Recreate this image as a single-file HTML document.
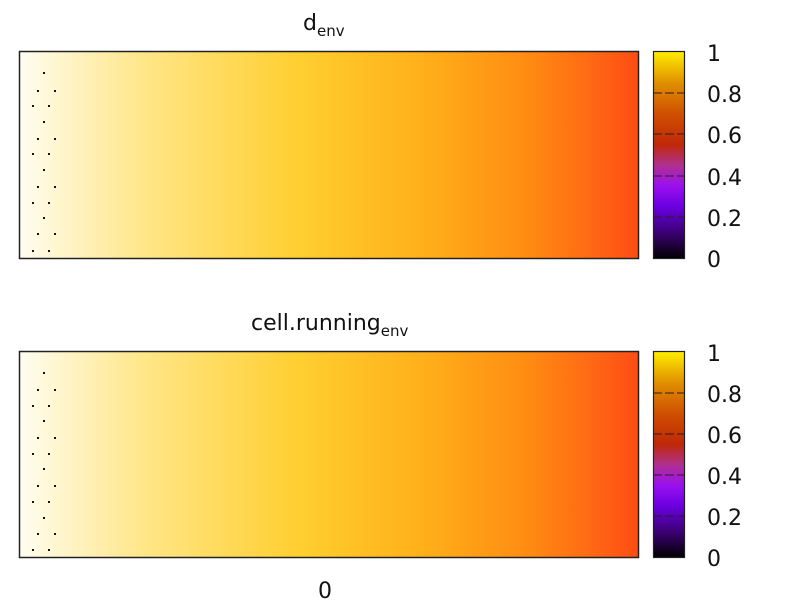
<!DOCTYPE html>
<html><head><style>
html,body{margin:0;padding:0;background:#fff;}
body{width:806px;height:600px;position:relative;overflow:hidden;font-family:"DejaVu Sans","Liberation Sans",sans-serif;}
</style></head><body>
<svg width="806" height="600" xmlns="http://www.w3.org/2000/svg" style="position:absolute;left:0;top:0">
<defs>
<linearGradient id="hm" x1="0" y1="0" x2="1" y2="0">
<stop offset="0" stop-color="#fffdf2"/>
<stop offset="0.06" stop-color="#fff6d0"/>
<stop offset="0.2" stop-color="#ffe688"/>
<stop offset="0.45" stop-color="#ffcf30"/>
<stop offset="0.65" stop-color="#ffb01a"/>
<stop offset="0.82" stop-color="#ff8c12"/>
<stop offset="0.93" stop-color="#ff6614"/>
<stop offset="1" stop-color="#ff4c14"/>
</linearGradient>
<linearGradient id="cb" x1="0" y1="1" x2="0" y2="0">
<stop offset="0" stop-color="#000000"/>
<stop offset="0.12" stop-color="#3a0070"/>
<stop offset="0.25" stop-color="#6a00e0"/>
<stop offset="0.35" stop-color="#9a10f0"/>
<stop offset="0.45" stop-color="#b03090"/>
<stop offset="0.55" stop-color="#c02808"/>
<stop offset="0.7" stop-color="#d05000"/>
<stop offset="0.85" stop-color="#e09000"/>
<stop offset="1" stop-color="#ffee00"/>
</linearGradient>
</defs>
<g font-size="22" fill="#111">
<text x="303" y="30">d<tspan font-size="15" dy="6">env</tspan></text>
<text x="251" y="330">cell.running<tspan font-size="15" dy="6">env</tspan></text>
<text x="318" y="598">0</text>
</g>
<rect x="19.5" y="51.5" width="619" height="207" fill="url(#hm)" stroke="#222" stroke-width="1.5"/>
<rect x="19.5" y="351.5" width="619" height="206" fill="url(#hm)" stroke="#222" stroke-width="1.5"/>
<rect x="653.5" y="51.5" width="31" height="207" fill="url(#cb)" stroke="#222" stroke-width="1.2"/>
<rect x="653.5" y="351.5" width="31" height="206" fill="url(#cb)" stroke="#222" stroke-width="1.2"/>
<g stroke="#222" stroke-width="1">
<line x1="653" y1="93" x2="685" y2="93" stroke-dasharray="9,3"/>
<line x1="653" y1="134" x2="685" y2="134" stroke-dasharray="9,3"/>
<line x1="653" y1="176" x2="685" y2="176" stroke-dasharray="9,3"/>
<line x1="653" y1="217" x2="685" y2="217" stroke-dasharray="9,3"/>
<line x1="653" y1="393" x2="685" y2="393" stroke-dasharray="9,3"/>
<line x1="653" y1="434" x2="685" y2="434" stroke-dasharray="9,3"/>
<line x1="653" y1="475" x2="685" y2="475" stroke-dasharray="9,3"/>
<line x1="653" y1="516" x2="685" y2="516" stroke-dasharray="9,3"/>
</g>
<g font-size="22" fill="#111">
<text x="707" y="61">1</text><text x="707" y="102">0.8</text><text x="707" y="143">0.6</text>
<text x="707" y="185">0.4</text><text x="707" y="226">0.2</text><text x="707" y="267">0</text>
<text x="707" y="361">1</text><text x="707" y="402">0.8</text><text x="707" y="443">0.6</text>
<text x="707" y="484">0.4</text><text x="707" y="525">0.2</text><text x="707" y="566">0</text>
</g>
<g fill="#111">
<rect x="43" y="72" width="2" height="2"/>
<rect x="37" y="90" width="2" height="2"/><rect x="54" y="90" width="2" height="2"/>
<rect x="32" y="105" width="2" height="2"/><rect x="48" y="105" width="2" height="2"/>
<rect x="43" y="121" width="2" height="2"/>
<rect x="37" y="138" width="2" height="2"/><rect x="54" y="138" width="2" height="2"/>
<rect x="32" y="153" width="2" height="2"/><rect x="48" y="153" width="2" height="2"/>
<rect x="43" y="169" width="2" height="2"/>
<rect x="37" y="186" width="2" height="2"/><rect x="54" y="186" width="2" height="2"/>
<rect x="32" y="202" width="2" height="2"/><rect x="48" y="202" width="2" height="2"/>
<rect x="43" y="217" width="2" height="2"/>
<rect x="37" y="233" width="2" height="2"/><rect x="54" y="233" width="2" height="2"/>
<rect x="32" y="250" width="2" height="2"/><rect x="48" y="250" width="2" height="2"/>

<rect x="43" y="372" width="2" height="2"/>
<rect x="37" y="389" width="2" height="2"/><rect x="54" y="389" width="2" height="2"/>
<rect x="32" y="405" width="2" height="2"/><rect x="48" y="405" width="2" height="2"/>
<rect x="43" y="420" width="2" height="2"/>
<rect x="37" y="437" width="2" height="2"/><rect x="54" y="437" width="2" height="2"/>
<rect x="32" y="453" width="2" height="2"/><rect x="48" y="453" width="2" height="2"/>
<rect x="43" y="468" width="2" height="2"/>
<rect x="37" y="485" width="2" height="2"/><rect x="54" y="485" width="2" height="2"/>
<rect x="32" y="501" width="2" height="2"/><rect x="48" y="501" width="2" height="2"/>
<rect x="43" y="517" width="2" height="2"/>
<rect x="37" y="533" width="2" height="2"/><rect x="54" y="533" width="2" height="2"/>
<rect x="32" y="549" width="2" height="2"/><rect x="48" y="549" width="2" height="2"/>
</g>
</svg>
</body></html>
